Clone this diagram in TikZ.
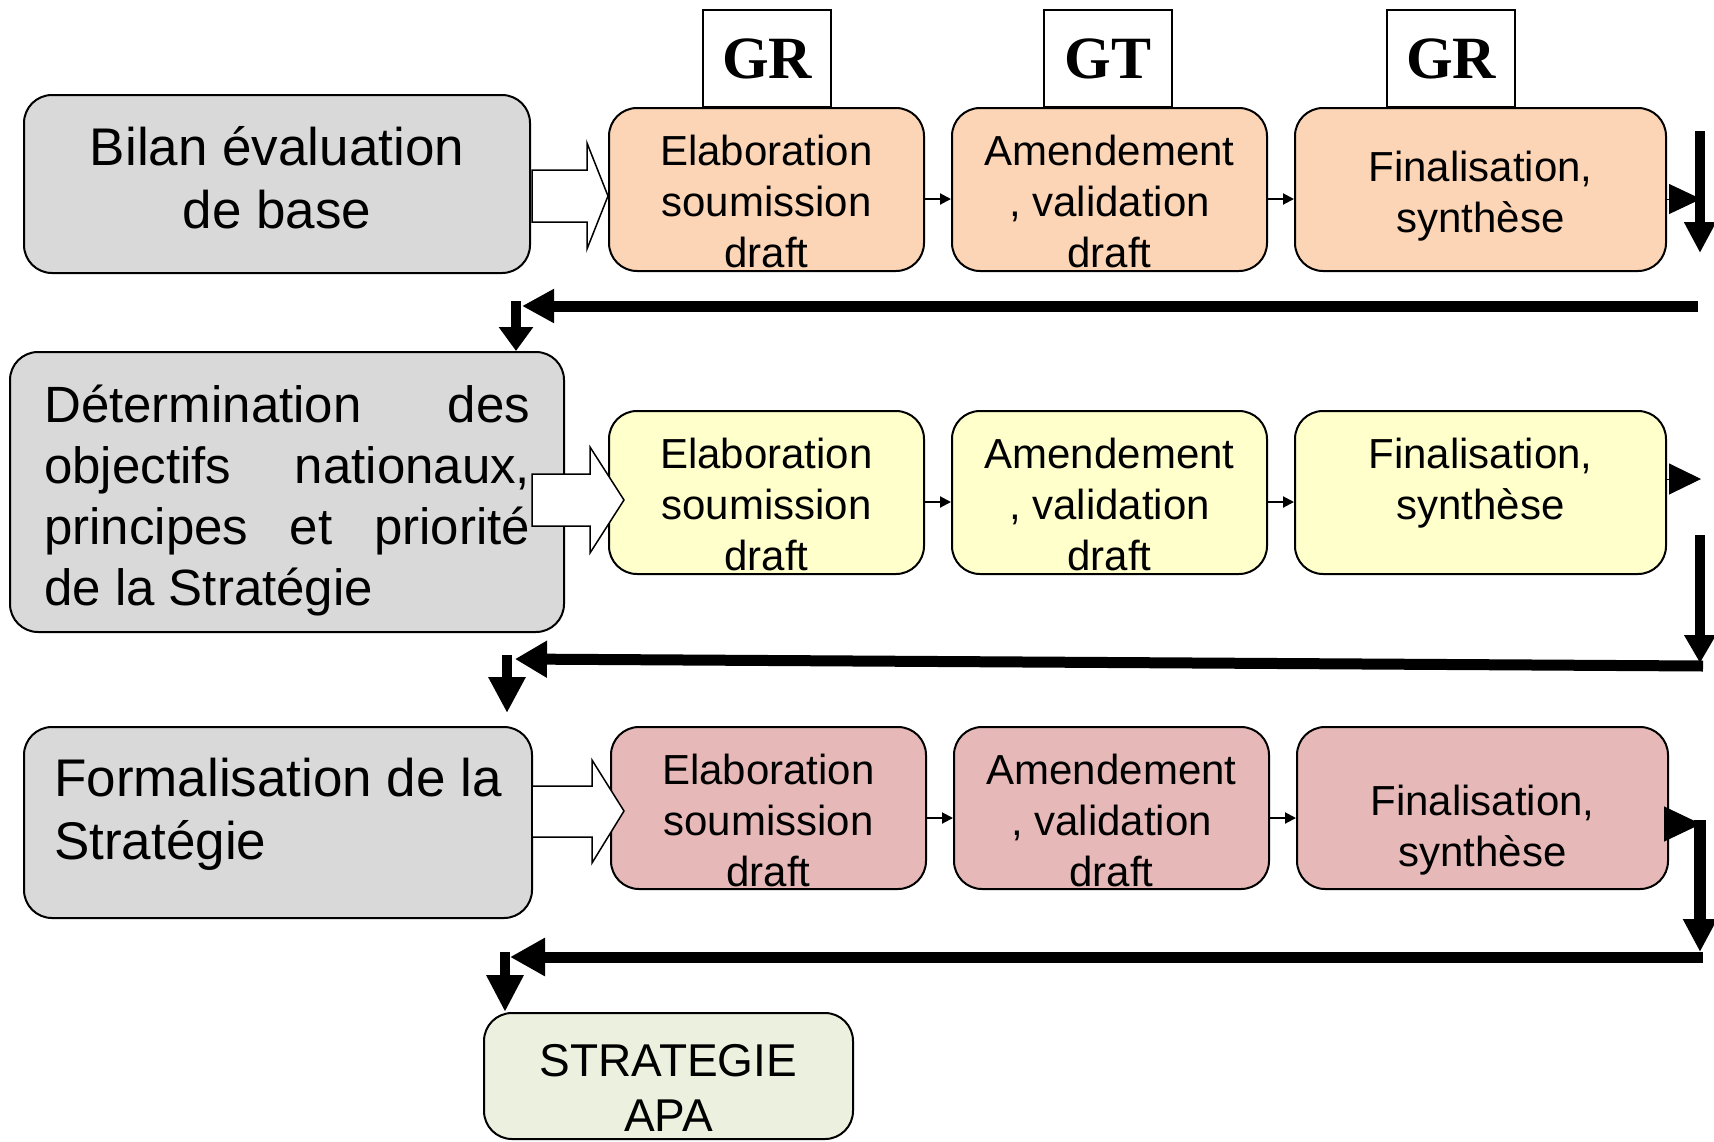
\documentclass[tikz,border=0pt]{standalone}
\usepackage{fontspec}
\setmainfont{Liberation Sans}
\newfontfamily\grfont{Liberation Serif}
\usetikzlibrary{arrows.meta}

\definecolor{boxgray}{HTML}{D9D9D9}
\definecolor{peach}{HTML}{FBD5B5}
\definecolor{paleyellow}{HTML}{FFFFCC}
\definecolor{rose}{HTML}{E6B9B8}
\definecolor{palegreen}{HTML}{EBF1DE}

\begin{document}
\begin{tikzpicture}[x=1pt,y=-1pt,
  stage/.style={draw, line width=2pt, rounded corners=28pt, inner sep=0pt},
  lefttext/.style={font=\fontsize{51}{61}\selectfont, inner sep=0pt},
  stagetext/.style={font=\fontsize{42}{51}\selectfont, align=center, anchor=base, inner sep=0pt},
  actor/.style={draw, line width=1.5pt, fill=white, minimum width=128pt, minimum height=97pt, inner sep=0pt, font=\grfont\bfseries\fontsize{60}{60}\selectfont},
  hollow/.style={draw, line width=1.5pt, fill=white},
  link/.style={line width=2pt, -{Triangle[length=11pt,width=11pt]}},
  backbone/.style={line width=11pt},
  ]
\useasboundingbox (0,0) rectangle (1714,1141);

% row 1
\node[stage, fill=boxgray, minimum width=506pt, minimum height=178pt] (bilan) at (277,184) {};
\node[lefttext, font=\fontsize{53}{63}\selectfont, align=center, anchor=base] (bilan-t) at (277,228) {Bilan évaluation\\de base};
\node[stage, fill=peach, minimum width=315pt, minimum height=163pt] (e1) at (766.5,189.5) {};
\node[stage, fill=peach, minimum width=315pt, minimum height=163pt] (a1) at (1109.5,189.5) {};
\node[stage, fill=peach, minimum width=371pt, minimum height=163pt] (f1) at (1480.5,189.5) {};
\node[stagetext] (e1-t) at (766.5,267) {Elaboration\\soumission\\draft};
\node[stagetext] (a1-t) at (1109.5,267) {Amendement\\, validation\\draft};
\node[stagetext] (f1-t) at (1480.5,232) {Finalisation,\\synthèse};
\node[actor] (gr1) at (767,58.5) {GR};
\node[actor] (gt) at (1108,58.5) {GT};
\node[actor] (gr2) at (1451,58.5) {GR};

% row 2
\node[stage, fill=boxgray, minimum width=554pt, minimum height=280pt] (determ) at (287,492) {};
\node[lefttext, align=left, anchor=base west] (determ-t) at (44,605)
  {\makebox[486pt][s]{Détermination des}\\\makebox[486pt][s]{objectifs nationaux,}\\\makebox[486pt][s]{principes et priorité}\\de la Stratégie};
\node[stage, fill=paleyellow, minimum width=315pt, minimum height=163pt] (e2) at (766.5,492.5) {};
\node[stage, fill=paleyellow, minimum width=315pt, minimum height=163pt] (a2) at (1109.5,492.5) {};
\node[stage, fill=paleyellow, minimum width=371pt, minimum height=163pt] (f2) at (1480.5,492.5) {};
\node[stagetext] (e2-t) at (766.5,570) {Elaboration\\soumission\\draft};
\node[stagetext] (a2-t) at (1109.5,570) {Amendement\\, validation\\draft};
\node[stagetext] (f2-t) at (1480.5,519) {Finalisation,\\synthèse};

% row 3
\node[stage, fill=boxgray, minimum width=508pt, minimum height=191pt] (formal) at (278,822.5) {};
\node[lefttext, font=\fontsize{53}{63}\selectfont, align=left, anchor=base west] (formal-t) at (54,859) {Formalisation de la\\Stratégie};
\node[stage, fill=rose, minimum width=315pt, minimum height=162pt] (e3) at (768.5,808) {};
\node[stage, fill=rose, minimum width=315pt, minimum height=162pt] (a3) at (1111.5,808) {};
\node[stage, fill=rose, minimum width=371pt, minimum height=162pt] (f3) at (1482.5,808) {};
\node[stagetext] (e3-t) at (768.5,886) {Elaboration\\soumission\\draft};
\node[stagetext] (a3-t) at (1111.5,886) {Amendement\\, validation\\draft};
\node[stagetext] (f3-t) at (1482.5,866) {Finalisation,\\synthèse};

% result
\node[stage, fill=palegreen, minimum width=369pt, minimum height=126pt] (apa) at (668.5,1076) {};
\node[stagetext, font=\fontsize{46}{55}\selectfont] (apa-t) at (668.5,1131) {STRATEGIE\\APA};

% block arrows
\draw[hollow] (532,170) -- (587,170) -- (587,143) -- (608,196) -- (587,249) -- (587,222) -- (532,222) -- cycle;
\draw[hollow] (532,474) -- (590,474) -- (590,447) -- (624,500) -- (590,553) -- (590,526) -- (532,526) -- cycle;
\draw[hollow] (532,786) -- (592,786) -- (592,760) -- (624,811) -- (592,863) -- (592,837) -- (532,837) -- cycle;

% small steps
\path[link] (e1.east |- 0,199) edge (a1.west |- 0,199) (a1.east |- 0,199) edge (f1.west |- 0,199);
\path[link] (e2.east |- 0,502) edge (a2.west |- 0,502) (a2.east |- 0,502) edge (f2.west |- 0,502);
\path[link] (e3.east |- 0,818) edge (a3.west |- 0,818) (a3.east |- 0,818) edge (f3.west |- 0,818);

% loops back to the left
\coordinate (out1) at (1701,199);
\coordinate (out2) at (1701,479);
\coordinate (out3) at (1701,824);
\draw[line width=1pt, -{Triangle[length=32pt,width=30pt]}] (f1.east |- out1) -- (out1);
\draw[line width=1pt, -{Triangle[length=32pt,width=31pt]}] (f2.east |- out2) -- (out2);
\draw[line width=1pt, -{Triangle[length=37pt,width=35pt]}] (1664,824) -- (out3);

\coordinate (down1a) at (1700,131); \coordinate (down1b) at (1700,253);
\coordinate (down2a) at (1700,535); \coordinate (down2b) at (1700,663);
\coordinate (down3a) at (1700,820); \coordinate (down3b) at (1700,952);
\draw[line width=10pt, -{Triangle[length=31pt,width=30pt]}] (down1a) -- (down1b);
\draw[line width=10pt, -{Triangle[length=28pt,width=30pt]}] (down2a) -- (down2b);
\draw[line width=12pt, -{Triangle[length=33pt,width=32pt]}] (down3a) -- (down3b);

\coordinate (back1a) at (1698,306); \coordinate (back1b) at (522,306);
\coordinate (back2a) at (1703,666); \coordinate (back2b) at (515,659);
\coordinate (back3a) at (1703,957); \coordinate (back3b) at (510,957);
\draw[backbone, -{Triangle[length=32pt,width=32pt]}] (back1a) -- (back1b);
\draw[backbone, -{Triangle[length=32pt,width=35pt]}] (back2a) -- (back2b);
\draw[backbone, -{Triangle[length=35pt,width=36pt]}] (back3a) -- (back3b);

\coordinate (drop1) at (516,301);
\coordinate (drop2) at (507,655);
\coordinate (drop3) at (505,952);
\draw[line width=10pt, -{Triangle[length=24pt,width=33pt]}] (drop1) -- (drop1 |- determ.north);
\draw[line width=10pt, -{Triangle[length=36pt,width=35pt]}] (drop2) -- (507,713);
\draw[line width=10pt, -{Triangle[length=37pt,width=35pt]}] (drop3) -- (drop3 |- apa.north);
\end{tikzpicture}
\end{document}
